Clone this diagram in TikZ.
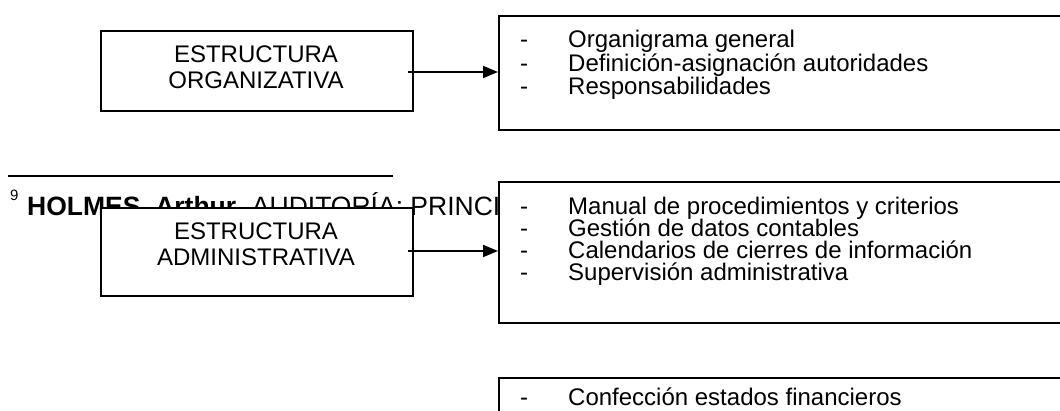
\documentclass[tikz,border=0pt]{standalone}
\usepackage{fontspec}
\setmainfont{Liberation Sans}
\usetikzlibrary{arrows.meta}
\tikzset{
  x=1pt, y=-1pt,
  lbox/.style={draw=black, line width=1.8pt, fill=white, inner sep=0pt, anchor=north west},
  rbox/.style={draw=black, line width=1.8pt, fill=white, inner sep=0pt, anchor=north west, minimum width=620pt},
  ltext/.style={inner sep=0pt, anchor=base, font=\fontsize{24}{26}\selectfont},
  item/.style={inner sep=0pt, anchor=base west, font=\fontsize{24}{26}\selectfont},
  conn/.style={line width=1.8pt, -{Triangle[length=15pt,width=12pt]}},
}
\begin{document}
\begin{tikzpicture}
\clip (0,0) rectangle (1060,411);
\fill[white] (0,0) rectangle (1060,411);

% footnote rule and text (drawn first, covered by boxes)
\draw[line width=1.8pt] (8,176) -- (393,176);
\node[item, font=\fontsize{15}{17}\selectfont] (fnmark) at (10,201) {9};
\node[item, font=\fontsize{26.5}{28}\selectfont] (fn) at (27,216) {\textbf{HOLMES, Arthur.} AUDITORÍA: PRINCI};

% Box 1
\node[lbox, minimum width=312pt, minimum height=80pt] (b1) at (100,30) {};
\node[ltext] (b1a) at (256,63) {ESTRUCTURA};
\node[ltext] (b1b) at (256,89) {ORGANIZATIVA};
\node[rbox, minimum height=114pt] (r1) at (498,15) {};
\node[item] (r1d1) at (520,48) {-};
\node[item] (r1t1) at (568,48) {Organigrama general};
\node[item] (r1d2) at (520,71.5) {-};
\node[item] (r1t2) at (568,71.5) {Definición-asignación autoridades};
\node[item] (r1d3) at (520,95) {-};
\node[item] (r1t3) at (568,95) {Responsabilidades};
\coordinate (a1s) at (408,72);
\draw[conn] (a1s) -- (a1s -| r1.west);

% Box 2
\node[lbox, minimum width=312pt, minimum height=88pt] (b2) at (100,207) {};
\node[ltext] (b2a) at (256,240) {ESTRUCTURA};
\node[ltext] (b2b) at (256,266) {ADMINISTRATIVA};
\node[rbox, minimum height=141pt] (r2) at (498,181) {};
\node[item] (r2d1) at (520,215) {-};
\node[item] (r2t1) at (568,215) {Manual de procedimientos y criterios};
\node[item] (r2d2) at (520,237) {-};
\node[item] (r2t2) at (568,237) {Gestión de datos contables};
\node[item] (r2d3) at (520,259) {-};
\node[item] (r2t3) at (568,259) {Calendarios de cierres de información};
\node[item] (r2d4) at (520,281) {-};
\node[item] (r2t4) at (568,281) {Supervisión administrativa};
\coordinate (a2s) at (408,251);
\draw[conn] (a2s) -- (a2s -| r2.west);

% Box 3
\node[rbox, minimum height=80pt] (r3) at (498,377) {};
\node[item] (r3d1) at (520,406) {-};
\node[item] (r3t1) at (568,406) {Confección estados financieros};
\end{tikzpicture}
\end{document}
